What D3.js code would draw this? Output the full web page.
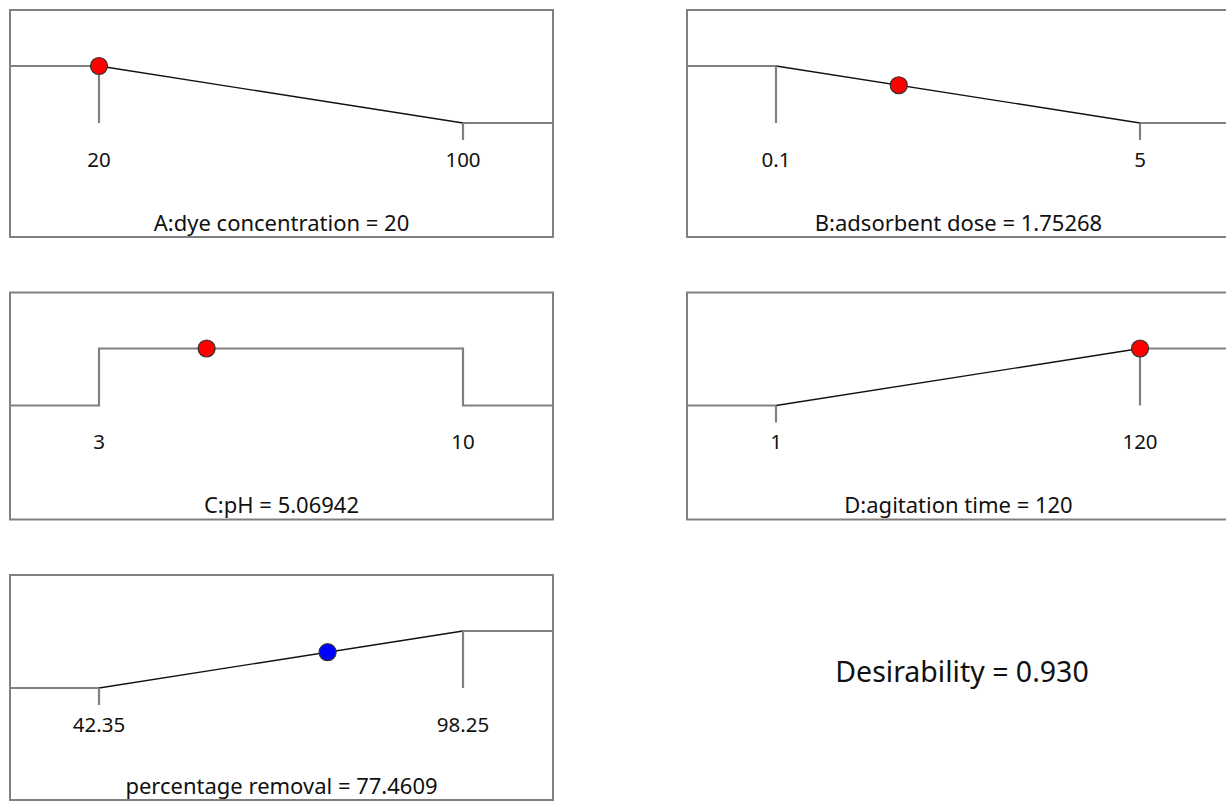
<!DOCTYPE html>
<html>
<head>
<meta charset="utf-8">
<script src="https://cdn.jsdelivr.net/npm/d3@7"></script>
<style>
  html, body { margin: 0; padding: 0; background: #fff; }
  svg { display: block; }
  text { font-family: "Noto Sans", "Open Sans", sans-serif; fill: #111; }
</style>
</head>
<body>
<div id="chart"></div>
<script>

// factor / response ramps
let names = ["A:dye concentration", "B:adsorbent dose", "C:pH", "D:agitation time", "percentage removal"];
let lows = [20, 0.1, 3, 1, 42.35];
let highs = [100, 5, 10, 120, 98.25];
let lowLabels = ["20", "0.1", "3", "1", "42.35"];
let highLabels = ["100", "5", "10", "120", "98.25"];
let settings = [20, 1.75268, 5.06942, 120, 77.4609];
let settingLabels = ["20", "1.75268", "5.06942", "120", "77.4609"];
let goals = ["minimize", "minimize", "range", "maximize", "maximize"];
let isResponse = [false, false, false, false, true];
let desirability = 0.930;

////////////////////////////////////////////////////////////////

let W = 1226, H = 801;
let pw = 543;
let colX = [10, 687];
let rowY = [10, 292.5, 575];
let rowH = [227, 227, 225];

let svg = d3.select("#chart")
            .append("svg")
            .attr("width", W)
            .attr("height", H);

// desirability of a value for a given goal
function desir(goal, v, lo, hi){
    if(goal == "minimize"){
        if(v <= lo) return 1;
        if(v >= hi) return 0;
        return (hi - v) / (hi - lo);
    }
    if(goal == "maximize"){
        if(v <= lo) return 0;
        if(v >= hi) return 1;
        return (v - lo) / (hi - lo);
    }
    return (v >= lo && v <= hi) ? 1 : 0;
}

names.forEach(function(name, i){
    let row = Math.floor(i / 2);
    let ph = rowH[row];
    let g = svg.append("g")
               .attr("transform", "translate(" + colX[i % 2] + "," + rowY[row] + ")");

    let x = d3.scaleLinear().domain([lows[i], highs[i]]).range([89, 453]);
    let y = d3.scaleLinear().domain([0, 1]).range([113, 56]);
    let lo = lows[i], hi = highs[i], goal = goals[i];

    // frame
    g.append("rect")
     .attr("x", 0).attr("y", 0)
     .attr("width", pw).attr("height", ph)
     .attr("fill", "none")
     .attr("stroke", "#808080")
     .attr("stroke-width", 2);

    let gray = "#808080";
    let line = d3.line().x(d => d[0]).y(d => d[1]);

    if(goal == "range"){
        let pts = [[0, y(0)], [x(lo), y(0)], [x(lo), y(1)], [x(hi), y(1)], [x(hi), y(0)], [pw, y(0)]];
        g.append("path").attr("d", line(pts))
         .attr("fill", "none").attr("stroke", gray).attr("stroke-width", 2.2);
    } else {
        let dLo = desir(goal, lo, lo, hi), dHi = desir(goal, hi, lo, hi);
        // flat parts
        g.append("path").attr("d", line([[0, y(dLo)], [x(lo), y(dLo)]]))
         .attr("fill", "none").attr("stroke", gray).attr("stroke-width", 2.2);
        g.append("path").attr("d", line([[x(hi), y(dHi)], [pw, y(dHi)]]))
         .attr("fill", "none").attr("stroke", gray).attr("stroke-width", 2.2);
        // ramp
        g.append("path").attr("d", line([[x(lo), y(dLo)], [x(hi), y(dHi)]]))
         .attr("fill", "none").attr("stroke", "#111").attr("stroke-width", 1.4);
        // ticks at the limits
        [[lo, dLo], [hi, dHi]].forEach(function(t){
            let y0 = y(t[1]);
            let y1 = t[1] == 1 ? y(0) : y(0) + 17;
            g.append("line")
             .attr("x1", x(t[0])).attr("x2", x(t[0]))
             .attr("y1", y0).attr("y2", y1)
             .attr("stroke", gray).attr("stroke-width", 2.2);
        });
    }

    // limit labels
    g.append("text").attr("x", x(lo)).attr("y", 156.5)
     .attr("text-anchor", "middle")
     .attr("font-size", 20.5).text(lowLabels[i]);
    g.append("text").attr("x", x(hi)).attr("y", 156.5)
     .attr("text-anchor", "middle")
     .attr("font-size", 20.5).text(highLabels[i]);

    // title
    g.append("text").attr("x", pw / 2).attr("y", ph - 6.5)
     .attr("text-anchor", "middle")
     .attr("font-size", 22).text(name + " = " + settingLabels[i]);

    // current setting
    let s = settings[i];
    g.append("circle")
     .attr("cx", x(s))
     .attr("cy", y(desir(goal, s, lo, hi)))
     .attr("r", 8.5)
     .attr("fill", isResponse[i] ? "#0000ff" : "#ff0000")
     .attr("stroke", "#333")
     .attr("stroke-width", 1.2);
});

svg.append("text")
   .attr("x", 962).attr("y", 681.5)
   .attr("text-anchor", "middle")
   .attr("font-size", 28.5)
   .text("Desirability = " + desirability.toFixed(3));

</script>
</body>
</html>
